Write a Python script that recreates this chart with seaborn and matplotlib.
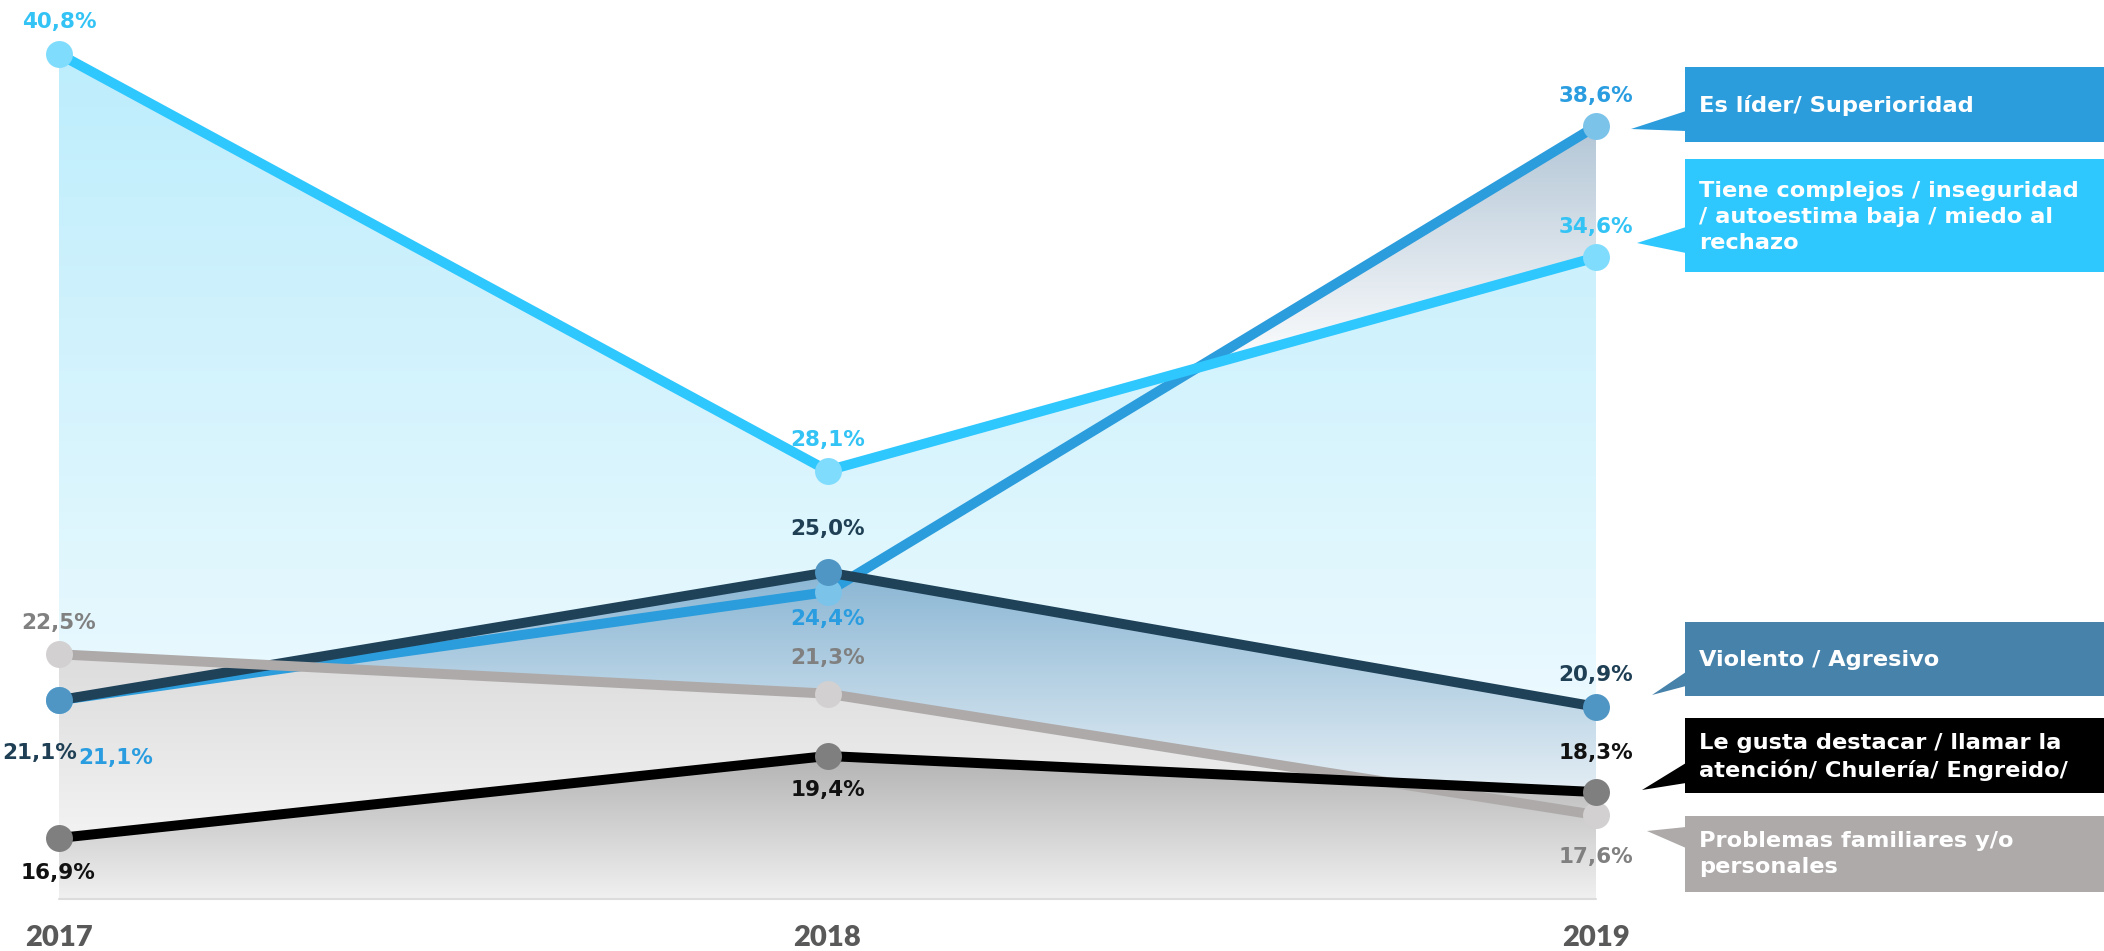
import numpy as np
import matplotlib
matplotlib.use("Agg")
import matplotlib.pyplot as plt
from matplotlib.patches import Rectangle, Polygon
from matplotlib.colors import to_rgb
import seaborn as sns

# datos
years = ["2017", "2018", "2019"]
lider = [21.1, 24.4, 38.6]
complejos = [40.8, 28.1, 34.6]
violento = [21.1, 25.0, 20.9]
destacar = [16.9, 19.4, 18.3]
familiares = [22.5, 21.3, 17.6]

lab_lider = "Es líder/ Superioridad"
lab_complejos = "Tiene complejos / inseguridad\n/ autoestima baja / miedo al\nrechazo"
lab_violento = "Violento / Agresivo"
lab_destacar = "Le gusta destacar / llamar la\natención/ Chulería/ Engreido/"
lab_familiares = "Problemas familiares y/o\npersonales"

sns.set_theme(style="white")
plt.rcParams['font.family'] = ['DejaVu Sans']

W, H = 2104, 951
fig = plt.figure(figsize=(W / 100, H / 100), dpi=100)
ax = fig.add_axes([59 / W, 52 / H, 1537 / W, 884.4 / H])
base, top = 15.04, 42.0
ax.set_xlim(0, 2)
ax.set_ylim(base, top)
ax.axis("off")
x = np.arange(len(years))

# (valores, linea, marcador, texto, degradado arriba, degradado abajo, offsets etiquetas px)
series = [
    (lider, "#2b9cdc", "#7cc3ea", "#2a9de0", (38.6, "#b3c6d6"), (32.0, "#f6f8fa"),
     [(57, -58), (0, -27), (0, 30)], 4),
    (complejos, "#2ec7fe", "#80dcfd", "#33c3f5", (40.8, "#bdedfc"), (15.04, "#f8fdff"),
     [(0, 32), (0, 31), (0, 30)], 6),
    (violento, "#1f4259", "#5096c4", "#1f3f55", (25.0, "#8ab6d4"), (17.5, "#eef4f8"),
     [(-19, -53), (0, 43), (0, 32)], 5),
    (familiares, "#aeaaaa", "#d2d0d0", "#808080", (22.5, "#dcdcdc"), (15.04, "#fafafa"),
     [(0, 31), (0, 36), (0, -42)], 7),
    (destacar, "#000000", "#7f7f7f", "#111111", (19.4, "#b3b3b3"), (15.04, "#f0f0f0"),
     [(-1, -35), (0, -34), (0, 39)], 8),
]

# rellenos con degradado
ys = np.linspace(base, top, 400)
for i, (vals, lc, mc, tc, (tv, tcol), (bv, bcol), offs, z) in enumerate(series):
    poly = ax.fill_between(x, vals, base, facecolor="none", edgecolor="none")
    t = np.clip((ys - bv) / (tv - bv), 0, 1)[:, None]
    c = np.array(to_rgb(bcol)) * (1 - t) + np.array(to_rgb(tcol)) * t
    im = ax.imshow(c[:, None, :], extent=[0, 2, base, top], origin="lower",
                   aspect="auto", zorder=1 + i * 0.1)
    im.set_clip_path(poly.get_paths()[0], transform=ax.transData)

# linea base
ax.plot([0, 2], [base, base], color="#dcdcdc", lw=1.5, zorder=2, clip_on=False)

# lineas
for vals, lc, mc, tc, _, _, offs, z in series:
    sns.lineplot(x=x, y=vals, ax=ax, color=lc, linewidth=7.2, marker="o",
                 markersize=19.4, markerfacecolor=mc, markeredgewidth=0,
                 zorder=z, clip_on=False, sort=False)
    for xi, v, (dx, dy) in zip(x, vals, offs):
        ax.annotate(f"{v:.1f}%".replace(".", ","), (xi, v),
                    xytext=(dx * 0.72, dy * 0.72), textcoords="offset points",
                    ha="center", va="center", fontsize=15.5, fontweight="bold",
                    color=tc, zorder=10, annotation_clip=False)

# años
for xi, yr in zip(x, years):
    ax.annotate(yr, (xi, base), xytext=(0, -39 * 0.72), textcoords="offset points",
                ha="center", va="center", fontsize=21, fontweight="heavy",
                color="#595959", annotation_clip=False, family=["Lato", "DejaVu Sans"])

# leyenda tipo bocadillo (coordenadas en pixeles desde arriba)
boxes = [
    (lab_lider, "#2b9cdc", 67, 142, [(1631, 129), (1686, 111), (1686, 131)], 105),
    (lab_complejos, "#2ec7fe", 159, 272, [(1637, 243), (1686, 227), (1686, 253)], 217),
    (lab_violento, "#4682aa", 622, 696, [(1652, 695), (1686, 672), (1686, 686)], 660),
    (lab_destacar, "#000000", 718, 793, [(1642, 790), (1686, 763), (1686, 783)], 757),
    (lab_familiares, "#aeaaaa", 816, 892, [(1647, 831), (1686, 827), (1686, 848)], 854),
]
for text, col, y0, y1, wedge, yc in boxes:
    fig.patches.append(Rectangle((1685 / W, 1 - y1 / H), (W - 1685) / W, (y1 - y0) / H,
                                 transform=fig.transFigure, facecolor=col, edgecolor="none"))
    fig.patches.append(Polygon([(px / W, 1 - py / H) for px, py in wedge], closed=True,
                               transform=fig.transFigure, facecolor=col, edgecolor="none"))
    fig.text(1699 / W, 1 - yc / H, text, ha="left", va="center", color="white",
             fontsize=16.2, fontweight="bold", linespacing=1.39)

fig.savefig("out.png", dpi=100, facecolor="white")
